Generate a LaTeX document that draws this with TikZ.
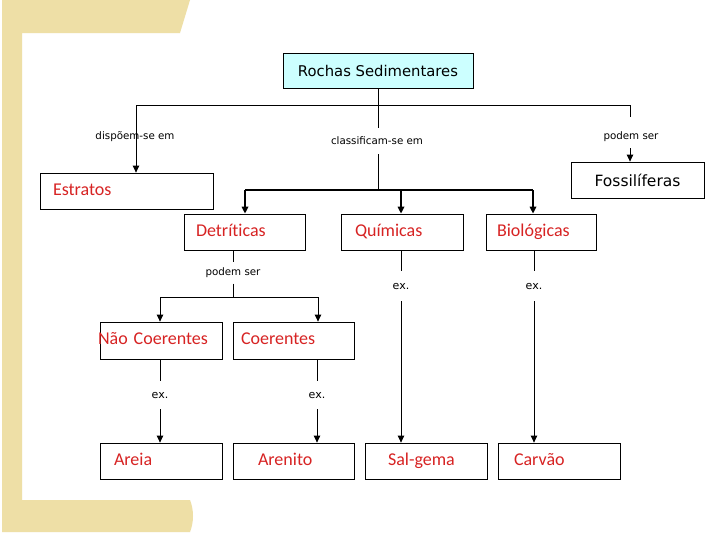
\documentclass[tikz,border=0pt]{standalone}
\usepackage{fontspec}
\setmainfont{DejaVu Sans}
\newfontfamily\calfont[Ligatures=NoCommon]{Carlito}
\usetikzlibrary{arrows.meta}
\definecolor{beige}{RGB}{238,223,166}
\definecolor{rtext}{RGB}{215,35,35}
\definecolor{tcyan}{RGB}{204,255,255}
\begin{document}
\begin{tikzpicture}[x=1pt,y=-1pt,
  conn/.style={line width=0.8pt},
  arr/.style={line width=0.8pt,-{Triangle[length=7pt,width=6.5pt]}},
  tconn/.style={line width=1.6pt},
  tarr/.style={line width=1.6pt,-{Triangle[length=7pt,width=6.5pt]}},
  lbl/.style={font=\fontsize{10.3}{11}\selectfont, inner xsep=1pt},
  exlbl/.style={font=\fontsize{11}{12}\selectfont, inner xsep=1pt},
  rbox/.style 2 args={draw, line width=0.8pt, minimum height=36, inner ysep=0pt,
     text width=#1, inner xsep=#2, align=left, text height=12.5pt, text depth=4pt,
     font=\calfont\fontsize{18}{19}\selectfont, text=rtext},
]
\useasboundingbox (0,0) rectangle (728,546);
\fill[white] (0,0) rectangle (728,546);
% decorative frame
\fill[beige] (2,0) -- (190,0) -- (180,33) -- (22,33) -- (22,500) -- (190,500)
  .. controls (194,510) and (194,522) .. (190,532) -- (2,532) -- cycle;

% nodes
\node[draw, line width=0.8pt, fill=tcyan, minimum width=190, minimum height=35,
  font=\fontsize{14.8}{16}\selectfont] (title) at (378,70.5) {Rochas Sedimentares};
\node[rbox={147}{13}] (estr) at (126.5,191) {Estratos};
\node[draw, line width=0.8pt, minimum width=133, minimum height=36,
  font=\fontsize{15.5}{17}\selectfont] (foss) at (637.5,180) {Fossilíferas};
\node[rbox={97}{12}] (detr) at (244.5,232) {Detríticas};
\node[rbox={94}{14}] (quim) at (402,232) {Químicas};
\node[rbox={88}{11}] (biol) at (541,232) {Biológicas};
\node[rbox={126}{-2}, minimum height=37] (naoc) at (161,340.5) {Não Coerentes};
\node[rbox={105}{8}, minimum height=37] (coer) at (293.5,340.5) {Coerentes};
\node[rbox={94}{14}] (arei) at (161,461) {Areia};
\node[rbox={71}{25}] (aren) at (293.5,461) {Arenito};
\node[rbox={76}{23}] (salg) at (426,461) {Sal-gema};
\node[rbox={90}{16}] (carv) at (559,461) {Carvão};

% labels
\node[lbl] (ldisp) at (135,137) {dispõem-se em};
\node[lbl, inner ysep=9pt] (lclas) at (377,141) {classificam-se em};
\node[lbl] (lpod1) at (631,137) {podem ser};
\node[lbl, inner ysep=5.5pt] (lpod2) at (233,273) {podem ser};
\node[exlbl, inner ysep=11pt] (lex1) at (160,395) {ex.};
\node[exlbl, inner ysep=11pt] (lex2) at (317,395) {ex.};
\node[exlbl, inner ysep=12pt] (lex3) at (401,286) {ex.};
\node[exlbl, inner ysep=12pt] (lex4) at (534,286) {ex.};

% coordinates
\coordinate (busL) at (136,105);
\coordinate (busR) at (630,105);
\coordinate (busM) at (378,105);
\coordinate (pgap1) at (630,117);
\coordinate (pgap2) at (630,148);
\coordinate (cbM) at (378,190);
\coordinate (cbL) at (245,190);
\coordinate (cbQ) at (401,190);
\coordinate (cbR) at (533,190);
\coordinate (db) at (233,297);
\coordinate (dbL) at (160,297);
\coordinate (dbR) at (318,297);

% connectors
\draw[conn] (title.south -| busM) -- (lclas.north -| busM);
\draw[conn] (busL) -- (busR);
\draw[arr] (busL) -- (estr.north -| busL);
\draw[conn] (busR) -- (pgap1);
\draw[arr] (pgap2) -- (foss.north -| busR);
\draw[conn] (lclas.south -| cbM) -- (cbM);
\draw[tconn] (cbL) -- (cbR);
\draw[tarr] (cbL) -- (detr.north -| cbL);
\draw[tarr] (cbQ) -- (quim.north -| cbQ);
\draw[tarr] (cbR) -- (biol.north -| cbR);

\draw[conn] (detr.south -| db) -- (lpod2.north);
\draw[conn] (lpod2.south) -- (db);
\draw[conn] (dbL) -- (dbR);
\draw[arr] (dbL) -- (naoc.north -| dbL);
\draw[arr] (dbR) -- (coer.north -| dbR);

\draw[conn] (naoc.south -| lex1) -- (lex1.north);
\draw[arr] (lex1.south) -- (arei.north -| lex1);
\draw[conn] (coer.south -| lex2) -- (lex2.north);
\draw[arr] (lex2.south) -- (aren.north -| lex2);
\draw[conn] (quim.south -| lex3) -- (lex3.north);
\draw[arr] (lex3.south) -- (salg.north -| lex3);
\draw[conn] (biol.south -| lex4) -- (lex4.north);
\draw[arr] (lex4.south) -- (carv.north -| lex4);
\end{tikzpicture}
\end{document}
